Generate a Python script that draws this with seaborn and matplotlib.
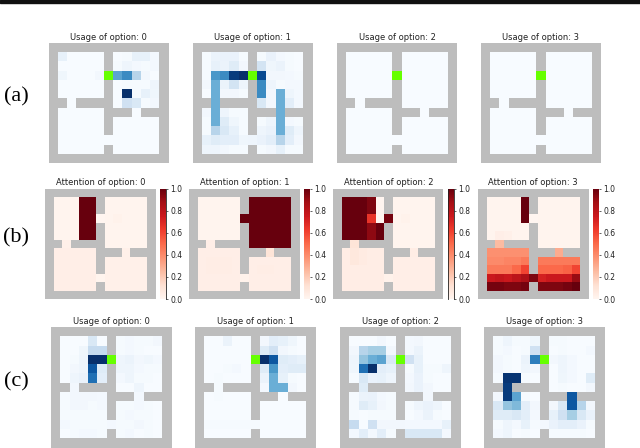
#!/usr/bin/env python3
"""Four-rooms option usage and attention heatmaps, three rows of panels."""

from __future__ import annotations

import matplotlib

matplotlib.use("Agg")

import matplotlib.pyplot as plt
import numpy as np
import seaborn as sns
from matplotlib.colors import ListedColormap
from matplotlib.patches import Rectangle

WIDTH, HEIGHT = 640, 448
WALL_GREY = "#bdbdbd"
GOAL_GREEN = "#66ff00"

# 1 is a wall cell
MAZE = [
    [1, 1, 1, 1, 1, 1, 1, 1, 1, 1, 1, 1, 1],
    [1, 0, 0, 0, 0, 0, 1, 0, 0, 0, 0, 0, 1],
    [1, 0, 0, 0, 0, 0, 1, 0, 0, 0, 0, 0, 1],
    [1, 0, 0, 0, 0, 0, 0, 0, 0, 0, 0, 0, 1],
    [1, 0, 0, 0, 0, 0, 1, 0, 0, 0, 0, 0, 1],
    [1, 0, 0, 0, 0, 0, 1, 0, 0, 0, 0, 0, 1],
    [1, 1, 0, 1, 1, 1, 1, 0, 0, 0, 0, 0, 1],
    [1, 0, 0, 0, 0, 0, 1, 1, 1, 0, 1, 1, 1],
    [1, 0, 0, 0, 0, 0, 1, 0, 0, 0, 0, 0, 1],
    [1, 0, 0, 0, 0, 0, 1, 0, 0, 0, 0, 0, 1],
    [1, 0, 0, 0, 0, 0, 0, 0, 0, 0, 0, 0, 1],
    [1, 0, 0, 0, 0, 0, 1, 0, 0, 0, 0, 0, 1],
    [1, 1, 1, 1, 1, 1, 1, 1, 1, 1, 1, 1, 1],
]
GOAL_CELL = (3, 6)

USAGE_A0 = [
    [0, 0, 0, 0, 0, 0, 0, 0, 0, 0, 0, 0, 0],
    [0, .08, 0, 0, 0, 0, 0, 0, .01, .08, .08, .02, 0],
    [0, 0, 0, 0, 0, 0, 0, .01, .05, .02, .01, .02, 0],
    [0, .04, 0, 0, 0, .03, 0, .55, .65, .3, .03, 0, 0],
    [0, 0, 0, 0, 0, 0, 0, 0, .01, .01, .01, .05, 0],
    [0, 0, 0, 0, 0, 0, 0, 0, 1.0, .01, .08, .04, 0],
    [0, 0, 0, 0, 0, 0, 0, 0, .2, .15, .01, .03, 0],
    [0, 0, 0, 0, 0, 0, 0, 0, 0, 0, 0, 0, 0],
    [0, 0, 0, 0, 0, 0, 0, 0, 0, 0, 0, 0, 0],
    [0, 0, 0, 0, 0, 0, 0, 0, 0, 0, 0, 0, 0],
    [0, 0, 0, 0, 0, 0, 0, 0, 0, 0, 0, 0, 0],
    [0, 0, 0, 0, 0, 0, 0, 0, 0, 0, 0, 0, 0],
    [0, 0, 0, 0, 0, 0, 0, 0, 0, 0, 0, 0, 0],
]
USAGE_A1 = [
    [0, 0, 0, 0, 0, 0, 0, 0, 0, 0, 0, 0, 0],
    [0, .01, .06, .07, .07, .01, 0, .01, .07, .02, .01, 0, 0],
    [0, .01, .08, .06, .12, .03, 0, .18, .04, .06, .01, 0, 0],
    [0, .01, .6, .65, .95, 1.0, 0, .9, .03, .03, .02, .01, 0],
    [0, .03, .5, .06, .18, .05, 0, .65, .05, .01, .02, .02, 0],
    [0, 0, .5, .03, .03, .01, 0, .65, .03, .5, .05, .02, 0],
    [0, 0, .5, 0, 0, 0, 0, .15, .03, .5, .1, .02, 0],
    [0, .03, .5, .05, .01, .01, 0, 0, 0, .5, 0, 0, 0],
    [0, .01, .5, .12, .04, .01, 0, .01, .05, .5, .02, .01, 0],
    [0, .01, .3, .15, .08, .01, 0, .05, .07, .5, .12, .05, 0],
    [0, .08, .12, .1, .1, .04, .05, .07, .1, .3, .1, .03, 0],
    [0, .05, .05, .03, .01, .01, 0, .01, .03, .08, .01, .01, 0],
    [0, 0, 0, 0, 0, 0, 0, 0, 0, 0, 0, 0, 0],
]
USAGE_A2 = [[0] * 13] * 13
USAGE_A3 = [[0] * 13] * 13

USAGE_C0 = [
    [0, 0, 0, 0, 0, 0, 0, 0, 0, 0, 0, 0, 0],
    [0, 0, 0, 0, .15, 0, 0, .01, .02, .01, .01, .03, 0],
    [0, 0, 0, .04, .25, .25, 0, .01, .02, .01, 0, 0, 0],
    [0, 0, .01, .05, 1.0, 1.0, 0, .05, .06, .03, .04, .02, 0],
    [0, 0, .03, .05, .85, .12, 0, .05, .05, .02, .01, .01, 0],
    [0, 0, .05, .07, .75, .1, 0, .02, .05, .01, .01, 0, 0],
    [0, 0, .03, 0, 0, 0, 0, 0, 0, .05, 0, 0, 0],
    [0, .01, .03, .03, .03, .02, 0, 0, 0, .02, 0, 0, 0],
    [0, .01, .03, .03, .01, .02, 0, .01, .01, .02, .01, 0, 0],
    [0, .01, .01, .01, .01, .01, 0, .01, .02, .01, .01, 0, 0],
    [0, .02, .01, .01, .01, .01, .02, .01, .01, .03, .01, 0, 0],
    [0, 0, .01, .02, .02, .01, 0, .01, .02, 0, .01, 0, 0],
    [0, 0, 0, 0, 0, 0, 0, 0, 0, 0, 0, 0, 0],
]
USAGE_C1 = [
    [0, 0, 0, 0, 0, 0, 0, 0, 0, 0, 0, 0, 0],
    [0, 0, 0, .06, 0, 0, 0, .03, .1, .08, .04, 0, 0],
    [0, 0, 0, 0, 0, 0, 0, .12, .2, .03, .01, 0, 0],
    [0, 0, 0, 0, 0, 0, 0, 1.0, .85, .12, .1, .08, 0],
    [0, 0, 0, .01, .02, 0, 0, .12, .6, .1, .12, .12, 0],
    [0, 0, .01, 0, 0, 0, 0, .06, .5, .08, .01, 0, 0],
    [0, 0, .01, 0, 0, 0, 0, .02, .5, .5, .03, 0, 0],
    [0, 0, .01, 0, 0, 0, 0, 0, 0, 0, 0, 0, 0],
    [0, 0, 0, 0, 0, 0, 0, 0, 0, 0, 0, 0, 0],
    [0, 0, 0, 0, 0, 0, 0, 0, 0, 0, 0, 0, 0],
    [0, .01, .01, .01, .01, .01, .01, 0, 0, 0, 0, 0, 0],
    [0, 0, 0, 0, 0, 0, 0, 0, 0, 0, 0, 0, 0],
    [0, 0, 0, 0, 0, 0, 0, 0, 0, 0, 0, 0, 0],
]
USAGE_C2 = [
    [0, 0, 0, 0, 0, 0, 0, 0, 0, 0, 0, 0, 0],
    [0, 0, 0, 0, .03, 0, 0, .02, .03, 0, 0, 0, 0],
    [0, .03, .3, .35, .35, .03, 0, .02, .06, 0, 0, 0, 0],
    [0, .05, .4, .5, .55, .15, 0, .2, .08, 0, 0, 0, 0],
    [0, .04, .75, 1.0, .1, .08, 0, .01, .08, .01, .01, .05, 0],
    [0, .01, .15, .07, .08, .05, 0, .02, .07, .01, 0, 0, 0],
    [0, 0, .12, 0, 0, 0, 0, .03, .07, .03, 0, 0, 0],
    [0, .01, .06, .07, .02, .01, 0, 0, 0, .03, 0, 0, 0],
    [0, .01, .12, .08, .03, .01, 0, .01, .05, .07, .05, 0, 0],
    [0, .01, 0, .01, .01, .01, 0, 0, .02, .06, .01, 0, 0],
    [0, .25, 0, .2, .03, .03, .03, .02, .02, .02, .02, .08, 0],
    [0, .02, .1, .02, .1, .01, 0, .15, .15, .15, .15, .02, 0],
    [0, 0, 0, 0, 0, 0, 0, 0, 0, 0, 0, 0, 0],
]
USAGE_C3 = [
    [0, 0, 0, 0, 0, 0, 0, 0, 0, 0, 0, 0, 0],
    [0, .01, .05, .01, .01, .04, 0, .01, .01, 0, 0, 0, 0],
    [0, .01, .02, 0, .01, .2, 0, 0, .01, 0, 0, .02, 0],
    [0, .03, .01, 0, .06, .7, 0, .03, .05, .02, 0, 0, 0],
    [0, .03, .01, 0, .05, .03, 0, 0, .05, .02, 0, 0, 0],
    [0, .01, .98, .98, .01, 0, 0, 0, .04, .02, 0, .12, 0],
    [0, 0, .95, 0, 0, 0, 0, 0, .01, 0, 0, .03, 0],
    [0, .03, .95, .55, .01, 0, 0, 0, 0, .85, 0, 0, 0],
    [0, .15, .4, .45, .1, .03, 0, .03, .15, .85, .3, .03, 0],
    [0, .12, .12, .15, .1, .02, 0, .08, .2, .35, .15, .07, 0],
    [0, .01, .05, .02, .08, .01, .02, .07, .1, .1, .07, .01, 0],
    [0, .02, .05, 0, .01, 0, 0, .01, .01, .01, .01, 0, 0],
    [0, 0, 0, 0, 0, 0, 0, 0, 0, 0, 0, 0, 0],
]

ATTN_B0 = [
    [0, 0, 0, 0, 0, 0, 0, 0, 0, 0, 0, 0, 0],
    [0, .01, .01, .01, 1.0, 1.0, 0, .01, .01, .01, .01, .01, 0],
    [0, .01, .01, .01, 1.0, 1.0, 0, .01, .01, .01, .01, .01, 0],
    [0, .01, .01, .01, 1.0, 1.0, 0, .01, .02, .01, .01, .01, 0],
    [0, .01, .01, .01, 1.0, 1.0, 0, .01, .01, .01, .01, .01, 0],
    [0, .01, .01, .01, 1.0, 1.0, 0, .01, .01, .01, .01, .01, 0],
    [0, 0, .03, 0, 0, 0, 0, .01, .01, .01, .01, .01, 0],
    [0, .04, .04, .04, .04, .04, 0, 0, 0, .03, 0, 0, 0],
    [0, .04, .04, .04, .04, .04, 0, .03, .03, .03, .03, .03, 0],
    [0, .04, .04, .04, .04, .04, 0, .03, .03, .03, .03, .03, 0],
    [0, .04, .04, .04, .04, .04, .01, .03, .03, .03, .03, .03, 0],
    [0, .04, .04, .04, .04, .04, 0, .03, .03, .03, .03, .03, 0],
    [0, 0, 0, 0, 0, 0, 0, 0, 0, 0, 0, 0, 0],
]
ATTN_B1 = [
    [0, 0, 0, 0, 0, 0, 0, 0, 0, 0, 0, 0, 0],
    [0, .01, .01, .01, .01, .01, 0, 1.0, 1.0, 1.0, 1.0, 1.0, 0],
    [0, .01, .01, .01, .01, .01, 0, 1.0, 1.0, 1.0, 1.0, 1.0, 0],
    [0, .01, .01, .01, .01, .01, 1.0, 1.0, 1.0, 1.0, 1.0, 1.0, 0],
    [0, .01, .01, .01, .01, .01, 0, 1.0, 1.0, 1.0, 1.0, 1.0, 0],
    [0, .01, .01, .01, .01, .01, 0, 1.0, 1.0, 1.0, 1.0, 1.0, 0],
    [0, 0, .04, 0, 0, 0, 0, 1.0, 1.0, 1.0, 1.0, 1.0, 0],
    [0, .04, .04, .04, .04, .04, 0, 0, 0, .1, 0, 0, 0],
    [0, .04, .05, .05, .05, .04, 0, .04, .04, .04, .04, .04, 0],
    [0, .04, .05, .05, .05, .04, 0, .04, .05, .05, .04, .04, 0],
    [0, .04, .04, .04, .04, .04, .02, .04, .04, .04, .04, .04, 0],
    [0, .04, .04, .04, .04, .04, 0, .04, .04, .04, .04, .04, 0],
    [0, 0, 0, 0, 0, 0, 0, 0, 0, 0, 0, 0, 0],
]
ATTN_B2 = [
    [0, 0, 0, 0, 0, 0, 0, 0, 0, 0, 0, 0, 0],
    [0, 1.0, 1.0, 1.0, .95, 0, 0, .01, .01, .01, .01, .01, 0],
    [0, 1.0, 1.0, 1.0, .95, 0, 0, .01, .01, .01, .01, .01, 0],
    [0, 1.0, 1.0, 1.0, .65, 0, .97, .01, .02, .01, .01, .01, 0],
    [0, 1.0, 1.0, 1.0, .92, 1.0, 0, .01, .01, .01, .01, .01, 0],
    [0, 1.0, 1.0, 1.0, .92, 1.0, 0, .01, .01, .01, .01, .01, 0],
    [0, 0, .1, 0, 0, 0, 0, .01, .01, .01, .01, .01, 0],
    [0, .05, .08, .06, .05, .05, 0, 0, 0, .05, 0, 0, 0],
    [0, .05, .08, .06, .05, .05, 0, .04, .04, .04, .04, .04, 0],
    [0, .05, .05, .05, .05, .05, 0, .04, .04, .04, .04, .04, 0],
    [0, .05, .05, .05, .05, .05, .02, .04, .04, .04, .04, .04, 0],
    [0, .05, .05, .05, .05, .05, 0, .04, .04, .04, .04, .04, 0],
    [0, 0, 0, 0, 0, 0, 0, 0, 0, 0, 0, 0, 0],
]
ATTN_B3 = [
    [0, 0, 0, 0, 0, 0, 0, 0, 0, 0, 0, 0, 0],
    [0, .01, .01, .01, .01, 1.0, 0, .01, .01, .01, .01, .01, 0],
    [0, .01, .01, .01, .01, 1.0, 0, .01, .01, .01, .01, .01, 0],
    [0, .01, .01, .01, .01, 1.0, 0, .01, .01, .01, .01, .01, 0],
    [0, .01, .01, .01, .01, .01, 0, .01, .01, .01, .01, .01, 0],
    [0, .01, .04, .03, .01, .01, 0, .01, .01, .01, .01, .01, 0],
    [0, 0, .25, 0, 0, 0, 0, .01, .01, .01, .01, .01, 0],
    [0, .38, .38, .38, .38, .38, 0, 0, 0, .3, 0, 0, 0],
    [0, .4, .4, .42, .42, .45, 0, .45, .45, .45, .45, .45, 0],
    [0, .45, .45, .45, .5, .6, 0, .5, .5, .5, .52, .6, 0],
    [0, .75, .78, .75, .8, .85, .95, .72, .75, .75, .75, .9, 0],
    [0, .97, .97, .95, .95, .97, 0, .95, .95, .95, .97, 1.0, 0],
    [0, 0, 0, 0, 0, 0, 0, 0, 0, 0, 0, 0, 0],
]

# left, top, size in reference pixels, title, then the panel's own values
ROW_A = [
    (48.5, 43, 120, "Usage of option: 0", USAGE_A0),
    (192.5, 43, 120, "Usage of option: 1", USAGE_A1),
    (337, 43, 120, "Usage of option: 2", USAGE_A2),
    (481, 43, 120, "Usage of option: 3", USAGE_A3),
]
ROW_B = [
    (45, 188.5, 110.5, "Attention of option: 0", ATTN_B0, ["right"]),
    (189, 188.5, 110.5, "Attention of option: 1", ATTN_B1, []),
    (333, 188.5, 110.5, "Attention of option: 2", ATTN_B2, ["left", "right"]),
    (478, 188.5, 110.5, "Attention of option: 3", ATTN_B3, []),
]
ROW_C = [
    (51, 327, 120.5, "Usage of option: 0", USAGE_C0),
    (195, 327, 120.5, "Usage of option: 1", USAGE_C1),
    (340, 327, 120.5, "Usage of option: 2", USAGE_C2),
    (484, 327, 120.5, "Usage of option: 3", USAGE_C3),
]
ROW_LABELS = [("(a)", 97), ("(b)", 238), ("(c)", 382)]
CBAR_TICKS = [0.0, 0.2, 0.4, 0.6, 0.8, 1.0]


def px_axes(fig: plt.Figure, left: float, top: float, width: float, height: float) -> plt.Axes:
    return fig.add_axes([left / WIDTH, 1 - (top + height) / HEIGHT, width / WIDTH, height / HEIGHT])


def draw_panel(fig, left, top, size, title, values, cmap, with_goal, cbar_ax=None, dark_sides=()):
    ax = px_axes(fig, left, top, size, size)
    ax.set_facecolor(WALL_GREY)
    maze = np.array(MAZE)
    sns.heatmap(
        np.array(values, dtype=float),
        mask=maze == 1,
        cmap=cmap,
        vmin=0,
        vmax=1,
        cbar=cbar_ax is not None,
        cbar_ax=cbar_ax,
        xticklabels=False,
        yticklabels=False,
        ax=ax,
    )
    if with_goal:
        goal = np.zeros_like(maze, dtype=bool)
        goal[GOAL_CELL] = True
        sns.heatmap(
            goal.astype(float),
            mask=~goal,
            cmap=ListedColormap([GOAL_GREEN]),
            cbar=False,
            xticklabels=False,
            yticklabels=False,
            ax=ax,
        )
    ax.set_title(title, fontsize=6.0, pad=2.5, color="#222222")
    if cbar_ax is not None:
        cbar_ax.set_yticks(CBAR_TICKS, [f"{t:.1f}" for t in CBAR_TICKS])
        cbar_ax.tick_params(labelsize=5.5, length=1.5, width=0.5, pad=1.5, colors="#222222")
        for side, spine in cbar_ax.spines.items():
            spine.set_visible(side in dark_sides)
            spine.set_color("#222222")
            spine.set_linewidth(0.6)


def main() -> None:
    sns.set_theme(style="white")
    fig = plt.figure(figsize=(WIDTH / 100, HEIGHT / 100), dpi=100)
    fig.add_artist(Rectangle((0, 1 - 3 / HEIGHT), 1, 3 / HEIGHT, transform=fig.transFigure, color="#111111"))

    for left, top, size, title, values in ROW_A + ROW_C:
        draw_panel(fig, left, top, size, title, values, "Blues", True)
    for left, top, size, title, values, dark_sides in ROW_B:
        cbar_ax = px_axes(fig, left + size + 4, top, 6.5, size)
        draw_panel(fig, left, top, size, title, values, "Reds", False, cbar_ax, dark_sides)

    for label, y in ROW_LABELS:
        fig.text(16 / WIDTH, 1 - y / HEIGHT, label, family="Liberation Serif", fontsize=16,
                 ha="center", va="center", color="black")
    fig.savefig("out.png", dpi=100)


if __name__ == "__main__":
    main()
